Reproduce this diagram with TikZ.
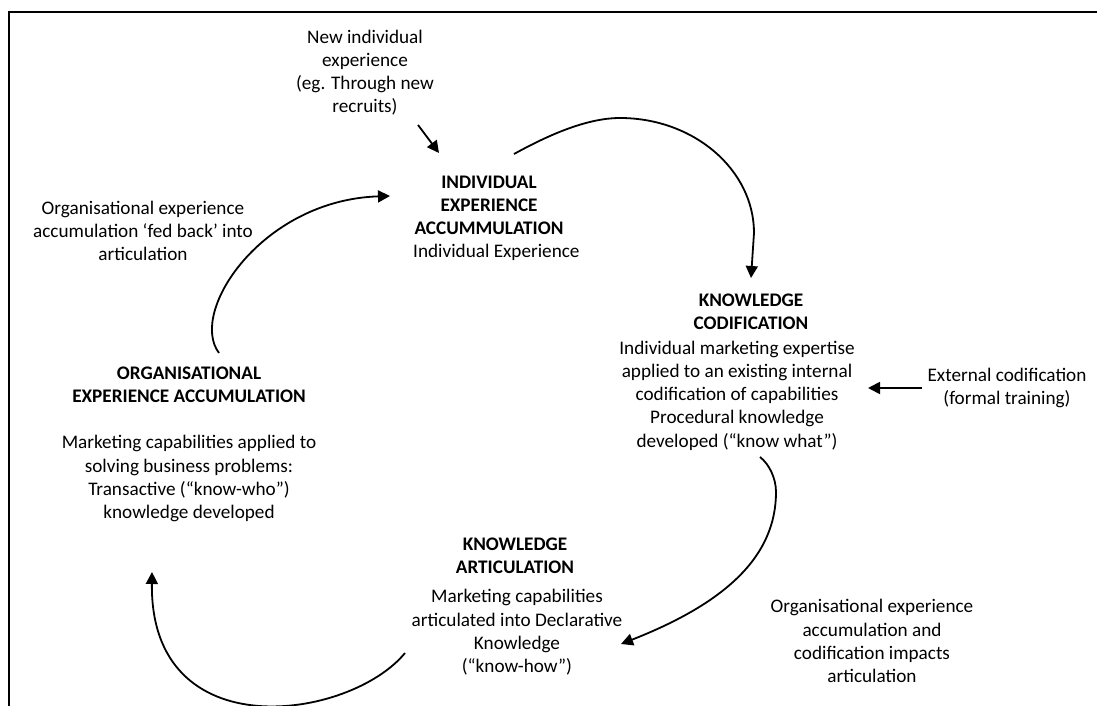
\documentclass[tikz,border=0pt]{standalone}
\usepackage{fontspec}
\setmainfont{Carlito}
\usetikzlibrary{arrows.meta}
\begin{document}
\begin{tikzpicture}[x=1pt,y=-1pt,
  txt/.style={align=center, inner sep=0pt, font=\fontsize{19.2}{23.2}\selectfont},
  ttl/.style={align=center, inner sep=0pt, font=\fontsize{19.2}{23.2}\selectfont\bfseries},
  flow/.style={line width=1.8pt, -{Triangle[length=12pt,width=12pt]}},
]
\useasboundingbox (0,0) rectangle (1097,706);
\clip (0,0) rectangle (1097,706);

% frame (open at the right and at the bottom)
\draw[line width=2pt] (9,720) -- (9,12) -- (1110,12);

% stage texts
\node[txt] (new) at (365,73.5) {\strut New individual\\experience\\(eg. Through new\\recruits)\strut};

\node[ttl] (ieaT) at (489,207) {\strut INDIVIDUAL\\EXPERIENCE\\ACCUMMULATION\strut};
\node[txt, anchor=west] (ieaB) at (413,253) {\strut Individual Experience\strut};

\node[ttl] (kcT) at (751,313) {\strut KNOWLEDGE\\CODIFICATION\strut};
\node[txt] (kcB) at (737,396) {\strut Individual marketing expertise\\applied to an existing internal\\codification of capabilities\\Procedural knowledge\\developed (“know what”)\strut};

\node[txt] (ext) at (1007,388.5) {\strut External codification\\(formal training)\strut};

\node[ttl] (kaT) at (515,557) {\strut KNOWLEDGE\\ARTICULATION\strut};
\node[txt] (kaB) at (517,633) {\strut Marketing capabilities\\articulated into Declarative\\Knowledge\\(“know-how”)\strut};

\node[txt] (impact) at (872,643) {\strut Organisational experience\\accumulation and\\codification impacts\\articulation\strut};

\node[ttl] (oeaT) at (189,386) {\strut ORGANISATIONAL\\EXPERIENCE ACCUMULATION\strut};
\node[txt] (oeaB) at (189,479) {\strut Marketing capabilities applied to\\solving business problems:\\Transactive (“know-who”)\\knowledge developed\strut};

\node[txt] (fed) at (143,233) {\strut Organisational experience\\accumulation ‘fed back’ into\\articulation\strut};

% connector end points
\coordinate (new-out) at (418,125);
\coordinate (iea-in)  at (439,153);
\coordinate (iea-out) at (514,154);
\coordinate (kc-in)   at (751,278);
\coordinate (kc-out)  at (760,457);
\coordinate (ka-in)   at (621,644);
\coordinate (ka-out)  at (405,653);
\coordinate (oea-in)  at (152,572);
\coordinate (oea-out) at (219,353);
\coordinate (fb-in)   at (390,196);
\coordinate (ext-out) at (922,388);
\coordinate (kc-side) at (868,388);

% cycle
\draw[flow] (iea-out) .. controls (545,137) and (585,118) .. (620,118)
  .. controls (694,118) and (754,170) .. (754,233) -- (kc-in);
\draw[flow] (kc-out) .. controls (769,464) and (776,478) .. (776,492)
  .. controls (776,555) and (728,602) .. (ka-in);
\draw[flow] (ka-out) .. controls (350,720) and (150,750) .. (oea-in);
\draw[flow] (oea-out) .. controls (188,312) and (262,200) .. (fb-in);

% inputs
\draw[flow] (new-out) -- (iea-in);
\draw[flow] (ext-out) -- (kc-side);
\end{tikzpicture}
\end{document}
